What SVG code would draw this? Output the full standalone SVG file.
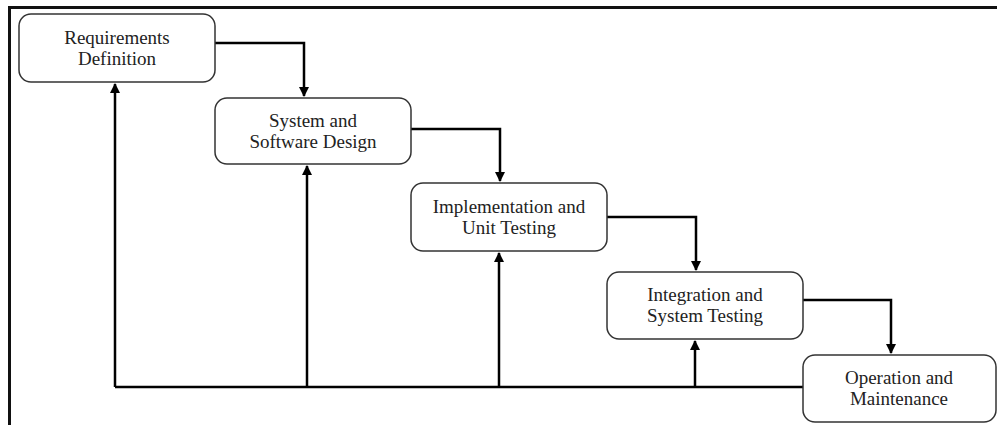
<svg xmlns="http://www.w3.org/2000/svg" width="997" height="425" viewBox="0 0 997 425">
<style>
.box{fill:#fff;stroke:#333;stroke-width:1.5}
.lbl{font-family:"Liberation Serif","Times New Roman",serif;font-size:19px;fill:#222;text-anchor:middle}
.con{fill:none;stroke:#000;stroke-width:2.5}
.frame{fill:none;stroke:#111;stroke-width:3}
</style>
<defs>
<marker id="ah" viewBox="0 0 10 10" refX="9" refY="5" markerWidth="4" markerHeight="4.5" orient="auto" markerUnits="strokeWidth">
<path d="M0,0 L10,5 L0,10 z" fill="#000"/>
</marker>
</defs>
<rect width="997" height="425" fill="#fff"/>
<path class="frame" d="M9.5,425 V7.5 H997"/>
<g id="connectors">
<path class="con" d="M215,43 H304 V96" marker-end="url(#ah)"/>
<path class="con" d="M411,129 H500 V181" marker-end="url(#ah)"/>
<path class="con" d="M607,217 H696 V270" marker-end="url(#ah)"/>
<path class="con" d="M803,300 H891 V353" marker-end="url(#ah)"/>
<path class="con" d="M803,387 H115"/>
<path class="con" d="M115,387 V84" marker-end="url(#ah)"/>
<path class="con" d="M307,387 V166" marker-end="url(#ah)"/>
<path class="con" d="M499,387 V253" marker-end="url(#ah)"/>
<path class="con" d="M695,387 V341" marker-end="url(#ah)"/>
</g>
<g id="n1">
<rect class="box" x="19" y="14" width="196" height="68" rx="12"/>
<text class="lbl" x="117" y="44">Requirements</text>
<text class="lbl" x="117" y="65">Definition</text>
</g>
<g id="n2">
<rect class="box" x="215" y="98" width="196" height="66" rx="12"/>
<text class="lbl" x="313" y="127">System and</text>
<text class="lbl" x="313" y="148">Software Design</text>
</g>
<g id="n3">
<rect class="box" x="411" y="183" width="196" height="68" rx="12"/>
<text class="lbl" x="509" y="213">Implementation and</text>
<text class="lbl" x="509" y="234">Unit Testing</text>
</g>
<g id="n4">
<rect class="box" x="607" y="272" width="196" height="67" rx="12"/>
<text class="lbl" x="705" y="301">Integration and</text>
<text class="lbl" x="705" y="322">System Testing</text>
</g>
<g id="n5">
<rect class="box" x="803" y="355" width="193" height="67" rx="12"/>
<text class="lbl" x="899" y="384">Operation and</text>
<text class="lbl" x="899" y="405">Maintenance</text>
</g>
</svg>
